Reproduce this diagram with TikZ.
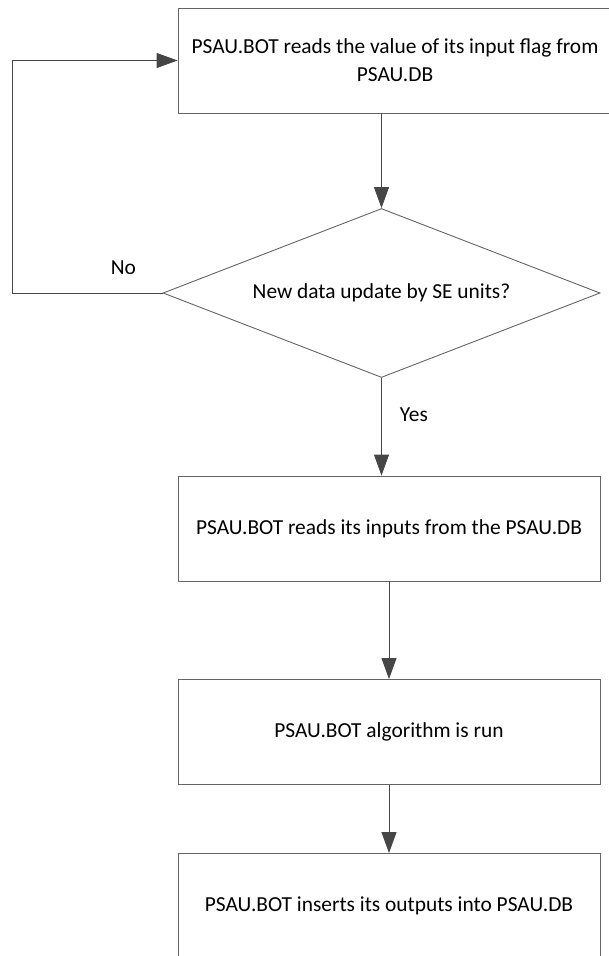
\documentclass[tikz,border=0pt]{standalone}
\usepackage{fontspec}
\setmainfont{Carlito}
\usetikzlibrary{shapes.geometric,arrows.meta,positioning}
\definecolor{linegray}{RGB}{70,70,70}
\definecolor{boxgray}{RGB}{100,100,100}

\begin{document}
\begin{tikzpicture}[x=1pt,y=-1pt,
  font=\fontsize{21.4}{28}\selectfont,
  stepbox/.style={draw=boxgray,line width=0.9pt,minimum width=422pt,minimum height=105pt,align=center,inner sep=0pt},
  decision/.style={draw=boxgray,line width=0.9pt,diamond,aspect=2.6,minimum width=437pt,minimum height=169pt,inner sep=0pt},
  flow/.style={draw=linegray,line width=0.9pt,-{Triangle[length=21pt,width=15pt]}},
  lbl/.style={inner sep=0pt}]
\useasboundingbox (0,0) rectangle (608,956);
%
\node[stepbox,minimum width=434pt] (read) at (395,60.5) {PSAU.BOT reads the value of its input flag from\\PSAU.DB};
\node[decision] (check) at (381.5,293) {New data update by SE units?};
\node[stepbox] (inputs) at (389,528.5) {PSAU.BOT reads its inputs from the PSAU.DB};
\node[stepbox] (algo) at (389,732) {PSAU.BOT algorithm is run};
\node[stepbox] (insert) at (389,906) {PSAU.BOT inserts its outputs into PSAU.DB};
%
\coordinate (loop) at (12,293);
%
\draw[flow] (read.south -| check.north) -- (check.north);
\draw[flow] (check.south) -- node[lbl,pos=0.38,right=18pt] (yes) {Yes} (check.south |- inputs.north);
\draw[flow] (check.west) -- node[lbl,pos=0.26,above=18pt] (no) {No} (loop) |- (read.west);
\draw[flow] (inputs.south) -- (algo.north);
\draw[flow] (algo.south) -- (insert.north);
\end{tikzpicture}
\end{document}
